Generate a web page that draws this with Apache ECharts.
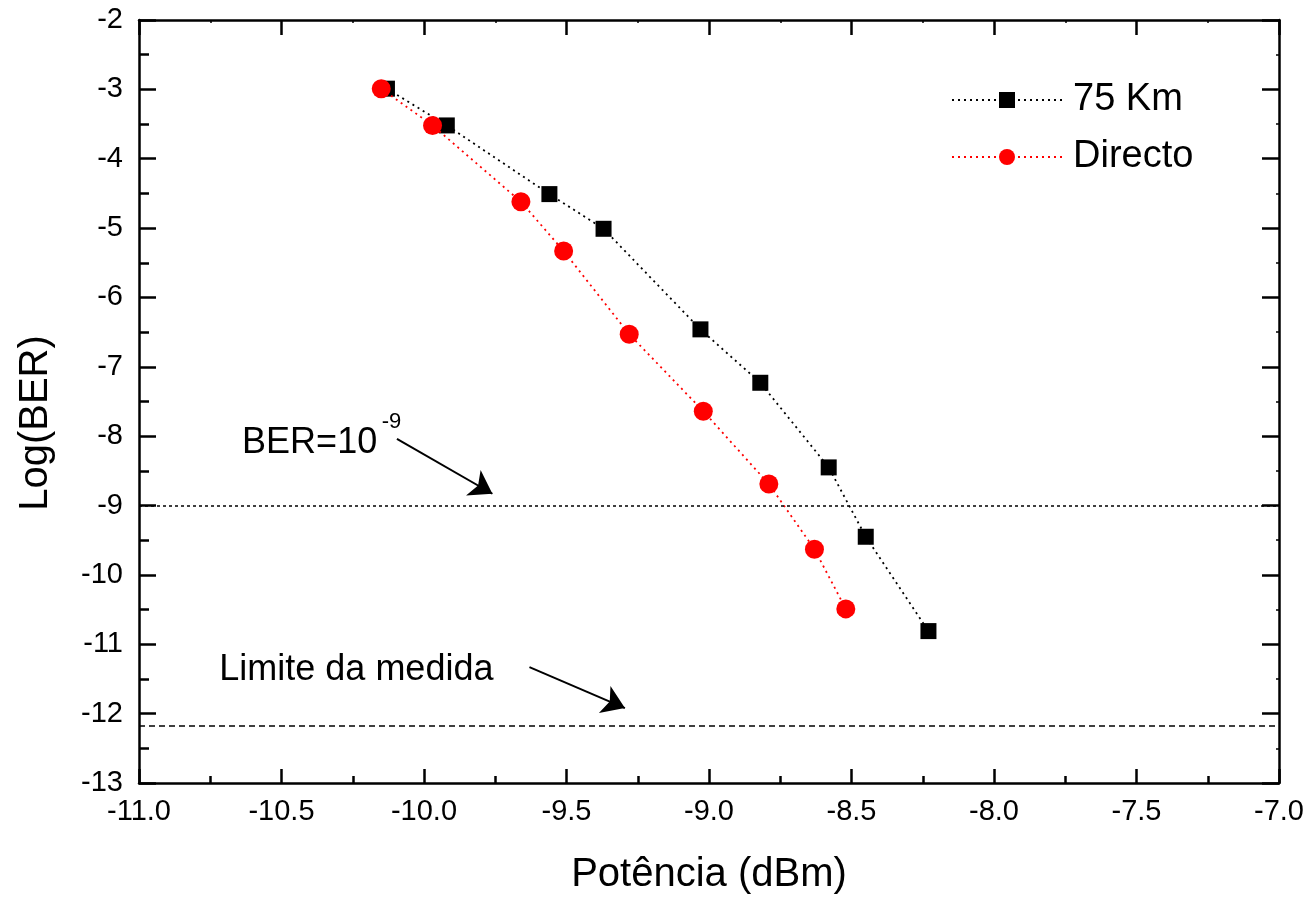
<!DOCTYPE html>
<html><head><meta charset="utf-8">
<script src="https://cdn.jsdelivr.net/npm/echarts@6/dist/echarts.min.js"></script>
<style>html,body{margin:0;padding:0;background:#fff}#c{width:1312px;height:902px}</style>
</head><body><div id="c"></div>
<script>
// ---- data ----
const seriesNames = ['75 Km', 'Directo'];
const km75X = [-10.13, -9.92, -9.56, -9.37, -9.03, -8.82, -8.58, -8.45, -8.23];
const km75Y = [-2.99, -3.52, -4.51, -5.01, -6.46, -7.23, -8.45, -9.45, -10.81];
const dirX  = [-10.15, -9.97, -9.66, -9.51, -9.28, -9.02, -8.79, -8.63, -8.52];
const dirY  = [-2.99, -3.52, -4.62, -5.33, -6.53, -7.64, -8.69, -9.63, -10.49];
const berLevel = -9;
const measureLimit = -12.18;
const xTickLabels = ['-11.0','-10.5','-10.0','-9.5','-9.0','-8.5','-8.0','-7.5','-7.0'];
const yTickLabels = ['-13','-12','-11','-10','-9','-8','-7','-6','-5','-4','-3','-2'];
// annotations in data coordinates
const berText = {label: 'BER=10', at: [-10.64, -8.10]};
const berSup = {label: '-9', at: [-10.15, -7.80]};
const limitText = {label: 'Limite da medida', at: [-10.72, -11.37]};
const berArrow = [[-10.095, -8.04], [-9.76, -8.83]];
const limitArrow = [[-9.63, -11.33], [-9.295, -11.92]];

const FONT = '"Liberation Sans", Arial, sans-serif';
const zip = (a, b) => a.map((v, i) => [v, b[i]]);

const chart = echarts.init(document.getElementById('c'), null, {renderer: 'canvas'});
const axisLine = {show: true, onZero: false, lineStyle: {color: '#000', width: 2.5}};

const option = {
  animation: false,
  backgroundColor: '#fff',
  grid: {left: 139, right: 33, top: 20, bottom: 119, containLabel: false},
  legend: {
    data: seriesNames,
    orient: 'vertical',
    left: 946, top: 76,
    itemWidth: 110, itemHeight: 20, itemGap: 19,
    textStyle: {fontFamily: FONT, fontSize: 38, color: '#000', padding: [0, 0, 0, 6]}
  },
  xAxis: [{
    type: 'value', min: -11, max: -7, interval: 0.5,
    name: 'Potência (dBm)', nameLocation: 'middle', nameGap: 72,
    nameTextStyle: {fontFamily: FONT, fontSize: 40, color: '#000'},
    axisLine: axisLine,
    axisTick: {inside: true, length: 14, lineStyle: {color: '#000', width: 2.5}},
    minorTick: {show: true, splitNumber: 2, length: 7, lineStyle: {color: '#000', width: 2.5}},
    axisLabel: {fontFamily: FONT, fontSize: 29, color: '#000', margin: 14,
      formatter: v => xTickLabels[Math.round((v + 11) / 0.5)]},
    splitLine: {show: false}
  }, {
    type: 'value', min: -11, max: -7, interval: 0.5, position: 'top',
    axisLine: axisLine,
    axisTick: {inside: true, length: 15, lineStyle: {color: '#000', width: 2.5}},
    minorTick: {show: true, splitNumber: 2, length: 3, lineStyle: {color: '#000', width: 1.5}},
    axisLabel: {show: false}, splitLine: {show: false}
  }],
  yAxis: [{
    type: 'value', min: -13, max: -2, interval: 1,
    axisLine: axisLine,
    axisTick: {inside: true, length: 17, lineStyle: {color: '#000', width: 2.5}},
    minorTick: {show: true, splitNumber: 2, length: 10, lineStyle: {color: '#000', width: 2.5}},
    axisLabel: {fontFamily: FONT, fontSize: 29, color: '#000', margin: 16,
      formatter: v => yTickLabels[Math.round(v + 13)]},
    splitLine: {show: false}
  }, {
    type: 'value', min: -13, max: -2, interval: 1, position: 'right',
    axisLine: axisLine,
    axisTick: {inside: true, length: 17, lineStyle: {color: '#000', width: 2.5}},
    minorTick: {show: true, splitNumber: 2, length: 3, lineStyle: {color: '#000', width: 1.5}},
    axisLabel: {show: false}, splitLine: {show: false}
  }],
  graphic: [{
    type: 'text', x: 36, y: 423, rotation: Math.PI / 2,
    style: {text: 'Log(BER)', font: '40px ' + FONT, fill: '#000', align: 'center', verticalAlign: 'middle'}
  }],
  series: [{
    name: '75 Km', type: 'line', data: zip(km75X, km75Y),
    symbol: 'rect', symbolSize: 16,
    lineStyle: {color: '#000', width: 1.8, type: [2, 4]},
    itemStyle: {color: '#000'},
    z: 3
  }, {
    name: 'Directo', type: 'line', data: zip(dirX, dirY),
    symbol: 'circle', symbolSize: 19,
    lineStyle: {color: '#ff0000', width: 1.8, type: [2, 4]},
    itemStyle: {color: '#ff0000'},
    z: 4
  }, {
    name: 'annotations', type: 'line', data: [], silent: true,
    markLine: {
      silent: true, symbol: 'none', label: {show: false},
      data: [
        {yAxis: berLevel, lineStyle: {color: '#000', width: 1.5, type: [3, 3]}},
        {yAxis: measureLimit, lineStyle: {color: '#000', width: 1.5, type: [6, 4]}},
        [{coord: berArrow[0], symbol: 'none'}, {coord: berArrow[1], symbol: 'arrow', symbolSize: 22,
          lineStyle: {color: '#000', width: 2, type: 'solid'}}],
        [{coord: limitArrow[0], symbol: 'none'}, {coord: limitArrow[1], symbol: 'arrow', symbolSize: 22,
          lineStyle: {color: '#000', width: 2, type: 'solid'}}]
      ]
    },
    markPoint: {
      silent: true, symbol: 'circle', symbolSize: 1, itemStyle: {color: 'rgba(0,0,0,0)'},
      data: [
        {coord: berText.at, label: {show: true, formatter: berText.label, position: 'right', distance: 0,
          fontFamily: FONT, fontSize: 36, color: '#000'}},
        {coord: berSup.at, label: {show: true, formatter: berSup.label, position: 'right', distance: 0,
          fontFamily: FONT, fontSize: 22, color: '#000'}},
        {coord: limitText.at, label: {show: true, formatter: limitText.label, position: 'right', distance: 0,
          fontFamily: FONT, fontSize: 36, color: '#000'}}
      ]
    }
  }]
};
chart.setOption(option);
</script></body></html>
